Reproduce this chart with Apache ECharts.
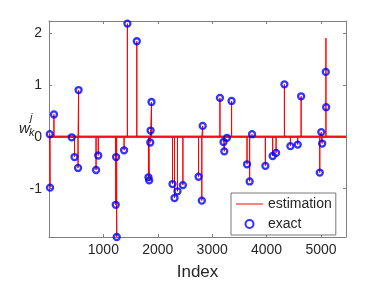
<!DOCTYPE html>
<html><head><meta charset="utf-8">
<script src="https://cdn.jsdelivr.net/npm/echarts@6/dist/echarts.min.js"></script>
<style>html,body{margin:0;padding:0;background:#fff}#c{width:382px;height:286px}</style>
</head><body><div id="c"></div>
<script>
// exact coefficients (index, value)
const exactIdx = [15, 20, 92, 418, 470, 535, 545, 866, 906, 1228, 1234, 1246, 1381, 1442, 1615, 1829, 1842, 1862, 1868, 1885, 2271, 2308, 2363, 2462, 2750, 2810, 2826, 3143, 3209, 3223, 3272, 3357, 3641, 3689, 3733, 3978, 4112, 4175, 4328, 4438, 4573, 4635, 4978, 5006, 5022, 5088, 5095];
const exactVal = [0.05, -0.98, 0.43, -0.01, -0.39, -0.60, 0.90, -0.64, -0.36, -1.31, -0.39, -1.93, -0.26, 2.18, 1.84, -0.78, -0.84, -0.11, 0.12, 0.67, -0.91, -1.18, -1.05, -0.93, -0.77, -1.23, 0.21, 0.75, -0.10, -0.28, -0.02, 0.69, -0.53, -0.86, 0.05, -0.56, -0.37, -0.31, 1.01, -0.18, -0.15, 0.78, -0.69, 0.09, -0.13, 1.25, 0.57];
// estimated coefficients (spikes of the estimation curve)
const estIdx = [15, 20, 92, 418, 470, 535, 545, 866, 906, 1228, 1234, 1246, 1381, 1442, 1615, 1829, 1842, 1862, 1868, 1885, 2271, 2308, 2363, 2462, 2750, 2810, 2826, 3143, 3209, 3223, 3272, 3357, 3641, 3689, 3733, 3978, 4112, 4175, 4328, 4438, 4573, 4635, 4978, 5006, 5022, 5091];
const estVal = [0.05, -0.98, 0.43, -0.01, -0.39, -0.60, 0.90, -0.64, -0.36, -1.31, -0.39, -1.93, -0.26, 2.18, 1.84, -0.78, -0.84, -0.11, 0.12, 0.67, -0.91, -1.18, -1.05, -0.93, -0.77, -1.23, 0.21, 0.75, -0.10, -0.28, -0.02, 0.69, -0.53, -0.86, 0.05, -0.56, -0.37, -0.31, 1.01, -0.18, -0.15, 0.78, -0.69, 0.09, -0.13, 1.90];
const nSamples = 5460;
const xTicks = [1000, 2000, 3000, 4000, 5000];
const yTicks = [-1, 0, 1, 2];
const yMin = -1.93, yMax = 2.23;

const estLine = [[1, 0]];
estIdx.forEach((x, i) => { estLine.push([x, 0], [x, estVal[i]], [x, 0]); });
estLine.push([nSamples, 0]);
const baseLine = [[1, 0], [nSamples, 0]];
const exactPts = exactIdx.map((x, i) => [x, exactVal[i]]);

const FONT = 'Liberation Sans';
const axisCol = '#7f7f7f';
const txtCol = '#262626';
function xAx(pos, labels) {
  return {
    type: 'value', min: 1, max: nSamples, position: pos,
    axisLine: { show: true, onZero: false, lineStyle: { color: axisCol, width: 1 } },
    axisTick: { show: true, inside: true, length: 3, customValues: xTicks, lineStyle: { color: axisCol } },
    axisLabel: { show: labels, customValues: xTicks, formatter: v => String(v), fontSize: 14, color: txtCol, fontFamily: FONT, margin: 6 },
    splitLine: { show: false },
    name: labels ? 'Index' : '', nameLocation: 'middle', nameGap: 27,
    nameTextStyle: { fontSize: 17, color: txtCol, fontFamily: FONT }
  };
}
function yAx(pos, labels) {
  return {
    type: 'value', min: yMin, max: yMax, position: pos,
    axisLine: { show: true, onZero: false, lineStyle: { color: axisCol, width: 1 } },
    axisTick: { show: true, inside: true, length: 3, customValues: yTicks, lineStyle: { color: axisCol } },
    axisLabel: { show: labels, customValues: yTicks, formatter: v => String(v), fontSize: 14, color: txtCol, fontFamily: FONT, margin: 7 },
    splitLine: { show: false }
  };
}
const chart = echarts.init(document.getElementById('c'), null, { renderer: 'canvas' });
chart.setOption({
  animation: false,
  backgroundColor: '#fff',
  grid: { left: 49, right: 36, top: 21, bottom: 47, containLabel: false },
  xAxis: [xAx('bottom', true), xAx('top', false)],
  yAxis: [yAx('left', true), yAx('right', false)],
  legend: {
    orient: 'vertical', left: 231, top: 193,
    data: [
      { name: 'estimation', icon: 'path://M0,0L27,0L27,1L0,1Z', itemStyle: { color: '#ff0000' } },
      { name: 'exact' }
    ],
    itemWidth: 27, itemHeight: 8, itemGap: 6,
    padding: [4, 4, 4, 5],
    borderColor: '#555', borderWidth: 0.8, backgroundColor: '#fff',
    textStyle: { fontSize: 14, color: txtCol, fontFamily: FONT }
  },
  graphic: [
    { type: 'text', left: 19, top: 121, style: { text: 'w', font: 'italic 15px "Liberation Sans"', fill: txtCol } },
    { type: 'text', left: 30, top: 112, style: { text: 'j', font: 'italic 11px "Liberation Sans"', fill: txtCol } },
    { type: 'text', left: 29, top: 127, style: { text: 'k', font: 'italic 11px "Liberation Sans"', fill: txtCol } }
  ],
  series: [
    { name: 'noise', type: 'line', data: baseLine, symbol: 'none', silent: true,
      lineStyle: { color: '#ff0000', width: 2.5, opacity: 0.8 }, z: 1 },
    { name: 'estimation', type: 'line', data: estLine, symbol: 'none',
      lineStyle: { color: '#ff0000', width: 1 }, itemStyle: { color: '#ff0000' }, z: 2 },
    { name: 'exact', type: 'scatter', data: exactPts, symbol: 'circle', symbolSize: 6,
      itemStyle: { color: 'rgba(0,0,0,0)', borderColor: '#0000ff', borderWidth: 2.3 }, z: 3 }
  ]
});
</script></body></html>
